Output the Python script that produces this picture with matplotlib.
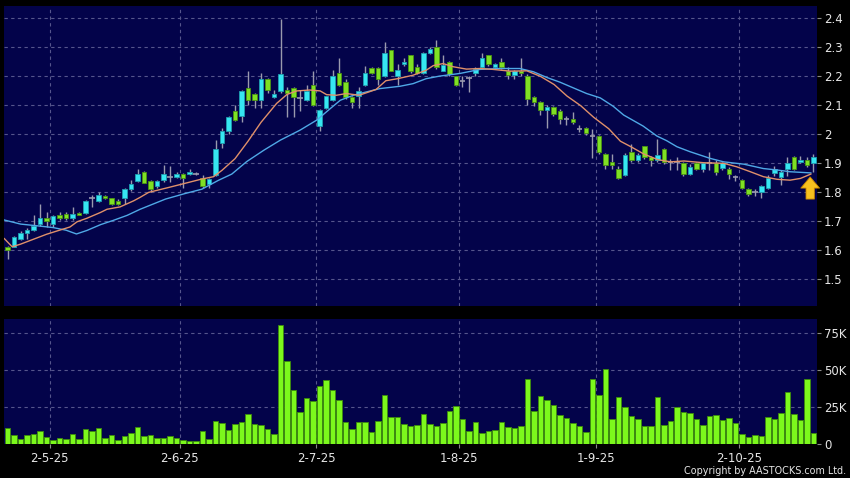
import matplotlib
matplotlib.use("Agg")
import matplotlib.pyplot as plt
import numpy as np

# ---- daily candles ----
opens = [
    1.611, 1.611, 1.638, 1.659, 1.670, 1.691, 1.710, 1.691, 1.720, 1.726,
    1.710, 1.729, 1.729, 1.779, 1.770, 1.788, 1.778, 1.770, 1.779, 1.809,
    1.839, 1.870, 1.838, 1.821, 1.840, 1.852, 1.852, 1.861, 1.862, 1.861,
    1.849, 1.828, 1.860, 1.969, 2.011, 2.078, 2.060, 2.159, 2.138, 2.117,
    2.190, 2.128, 2.148, 2.150, 2.159, 2.122, 2.118, 2.170, 2.027, 2.090,
    2.118, 2.208, 2.180, 2.127, 2.130, 2.169, 2.228, 2.228, 2.200, 2.289,
    2.200, 2.239, 2.270, 2.229, 2.210, 2.280, 2.300, 2.218, 2.248, 2.199,
    2.182, 2.191, 2.210, 2.231, 2.270, 2.229, 2.248, 2.217, 2.203, 2.217,
    2.200, 2.128, 2.110, 2.082, 2.091, 2.080, 2.050, 2.051, 2.018, 2.019,
    1.993, 1.993, 1.930, 1.902, 1.879, 1.859, 1.939, 1.910, 1.959, 1.920,
    1.910, 1.948, 1.905, 1.902, 1.900, 1.862, 1.900, 1.881, 1.900, 1.900,
    1.883, 1.881, 1.853, 1.840, 1.811, 1.800, 1.802, 1.813, 1.864, 1.853,
    1.881, 1.920, 1.903, 1.910, 1.900,
]
closes = [
    1.600, 1.647, 1.659, 1.671, 1.683, 1.710, 1.701, 1.719, 1.711, 1.710,
    1.726, 1.721, 1.769, 1.779, 1.791, 1.779, 1.760, 1.760, 1.810, 1.828,
    1.861, 1.832, 1.812, 1.838, 1.861, 1.852, 1.861, 1.850, 1.870, 1.861,
    1.821, 1.845, 1.949, 2.009, 2.057, 2.048, 2.149, 2.117, 2.117, 2.190,
    2.151, 2.139, 2.207, 2.140, 2.128, 2.122, 2.147, 2.100, 2.081, 2.129,
    2.200, 2.169, 2.128, 2.111, 2.148, 2.208, 2.209, 2.190, 2.280, 2.218,
    2.219, 2.248, 2.218, 2.210, 2.279, 2.291, 2.231, 2.237, 2.206, 2.170,
    2.182, 2.191, 2.225, 2.260, 2.240, 2.239, 2.231, 2.202, 2.215, 2.208,
    2.119, 2.110, 2.082, 2.091, 2.070, 2.050, 2.050, 2.040, 2.018, 2.002,
    1.993, 1.939, 1.893, 1.893, 1.850, 1.928, 1.910, 1.928, 1.920, 1.910,
    1.928, 1.902, 1.905, 1.902, 1.862, 1.887, 1.881, 1.900, 1.900, 1.869,
    1.900, 1.862, 1.853, 1.814, 1.794, 1.800, 1.822, 1.850, 1.880, 1.869,
    1.900, 1.881, 1.910, 1.892, 1.920,
]
highs = [
    1.615, 1.650, 1.665, 1.675, 1.720, 1.760, 1.733, 1.722, 1.730, 1.730,
    1.750, 1.730, 1.772, 1.790, 1.800, 1.790, 1.780, 1.775, 1.815, 1.840,
    1.880, 1.872, 1.840, 1.840, 1.893, 1.890, 1.870, 1.865, 1.880, 1.870,
    1.860, 1.850, 1.979, 2.020, 2.060, 2.100, 2.152, 2.218, 2.140, 2.210,
    2.192, 2.150, 2.397, 2.160, 2.160, 2.150, 2.170, 2.215, 2.085, 2.130,
    2.219, 2.260, 2.190, 2.130, 2.160, 2.235, 2.230, 2.230, 2.317, 2.290,
    2.240, 2.260, 2.272, 2.240, 2.283, 2.300, 2.322, 2.270, 2.250, 2.200,
    2.200, 2.200, 2.230, 2.280, 2.272, 2.245, 2.260, 2.230, 2.220, 2.260,
    2.205, 2.130, 2.115, 2.100, 2.095, 2.085, 2.060, 2.075, 2.030, 2.025,
    2.018, 1.995, 1.935, 1.930, 1.890, 1.935, 1.965, 1.935, 1.960, 1.925,
    1.983, 1.950, 1.915, 1.920, 1.905, 1.895, 1.905, 1.905, 1.938, 1.910,
    1.905, 1.885, 1.860, 1.845, 1.815, 1.810, 1.825, 1.860, 1.890, 1.875,
    1.920, 1.925, 1.925, 1.920, 1.930,
]
lows = [
    1.570, 1.610, 1.635, 1.640, 1.665, 1.685, 1.680, 1.680, 1.705, 1.705,
    1.705, 1.720, 1.725, 1.750, 1.765, 1.775, 1.755, 1.755, 1.760, 1.805,
    1.835, 1.830, 1.800, 1.815, 1.835, 1.835, 1.850, 1.815, 1.860, 1.860,
    1.815, 1.815, 1.855, 1.950, 2.000, 2.045, 2.040, 2.100, 2.090, 2.090,
    2.140, 2.125, 2.140, 2.058, 2.058, 2.080, 2.115, 2.095, 2.010, 2.085,
    2.115, 2.165, 2.120, 2.090, 2.090, 2.165, 2.205, 2.170, 2.195, 2.215,
    2.170, 2.235, 2.210, 2.205, 2.205, 2.275, 2.225, 2.215, 2.200, 2.165,
    2.160, 2.145, 2.200, 2.225, 2.235, 2.225, 2.225, 2.190, 2.190, 2.200,
    2.100, 2.095, 2.065, 2.020, 2.060, 2.035, 2.030, 2.035, 2.005, 1.995,
    1.918, 1.930, 1.880, 1.880, 1.845, 1.855, 1.905, 1.905, 1.915, 1.890,
    1.905, 1.895, 1.875, 1.875, 1.855, 1.860, 1.875, 1.870, 1.876, 1.860,
    1.875, 1.845, 1.838, 1.810, 1.785, 1.785, 1.780, 1.810, 1.855, 1.825,
    1.855, 1.875, 1.900, 1.885, 1.870,
]
# volume in thousands of shares
volumes_k = [
    11.0, 5.9, 3.4, 6.1, 6.5, 8.6, 4.5, 2.7, 3.8, 3.4,
    6.8, 3.2, 10.4, 8.8, 10.6, 4.3, 6.3, 2.9, 5.4, 7.7,
    11.5, 5.4, 6.1, 4.3, 4.1, 5.4, 4.1, 2.9, 2.3, 2.0,
    8.6, 3.6, 15.3, 14.4, 9.5, 13.7, 14.6, 20.0, 13.5, 13.1,
    9.9, 6.5, 80.2, 55.9, 36.7, 21.6, 30.9, 28.8, 39.2, 43.0,
    36.5, 29.7, 14.9, 10.4, 14.9, 15.1, 7.9, 15.5, 32.9, 18.2,
    18.2, 13.3, 12.2, 12.6, 20.4, 13.5, 12.2, 14.4, 22.5, 25.5,
    16.7, 8.8, 15.1, 7.7, 8.6, 9.2, 14.9, 11.3, 10.8, 11.9,
    43.5, 22.3, 32.4, 29.5, 26.1, 19.4, 17.6, 14.0, 12.2, 8.3,
    43.5, 32.9, 50.9, 16.7, 31.5, 25.2, 18.9, 17.1, 12.2, 12.2,
    32.0, 12.6, 15.3, 24.8, 21.6, 20.7, 16.7, 13.1, 18.9, 19.8,
    16.0, 17.6, 14.0, 6.5, 4.5, 6.1, 5.2, 18.5, 17.1, 21.2,
    34.9, 20.3, 16.2, 43.5, 7.4,
]

# moving averages at bar positions
ma10_x = [-0.5, 0.7, 2, 4, 6, 8, 9.6, 10.7, 12.2, 14.3, 15.3, 17.3, 19.4, 20.4,
          21.7, 24.8, 27.8, 29.9, 31.7, 33, 35, 37, 39, 41.4, 43, 44.5, 46.5,
          48.1, 49.1, 50.6, 52.1, 54.1, 56.7, 58.2, 60, 62.4, 64.4, 65.5, 67,
          68.6, 70.6, 72.7, 74.7, 77.3, 79.9, 82, 84.1, 86.1, 88.2, 90.2, 92.5,
          94.3, 96, 97.9, 100, 102, 104.1, 107.1, 110.2, 112.2, 114.3, 116.3,
          118.4, 120.4, 122, 123.6]
ma10_y = [1.640, 1.612, 1.621, 1.638, 1.655, 1.669, 1.680, 1.698, 1.710, 1.730,
          1.741, 1.749, 1.770, 1.782, 1.799, 1.816, 1.833, 1.845, 1.853, 1.875,
          1.915, 1.975, 2.040, 2.105, 2.136, 2.148, 2.151, 2.148, 2.135, 2.133,
          2.139, 2.133, 2.153, 2.183, 2.190, 2.202, 2.219, 2.235, 2.242, 2.231,
          2.223, 2.225, 2.222, 2.216, 2.217, 2.198, 2.170, 2.130, 2.097, 2.057,
          2.018, 1.975, 1.955, 1.931, 1.912, 1.904, 1.907, 1.901, 1.899, 1.887,
          1.870, 1.853, 1.844, 1.841, 1.847, 1.862]
ma20_x = [-0.5, 2, 5, 7, 9, 10.6, 12.2, 14.3, 16.3, 18.4, 20.4, 24.3, 27.3, 29.9,
          32.4, 34.5, 36.8, 39.5, 42, 45, 47.6, 49.7, 51.2, 53.2, 55.3, 57.3,
          60.4, 62.4, 64.4, 66.5, 69.6, 72.7, 75.8, 78.8, 80.9, 83, 85, 87.1,
          89.1, 91.2, 93.2, 94.8, 97.8, 99.9, 101.4, 103, 105, 108.1, 110.2,
          113.3, 116.3, 118.4, 120.4, 123.6]
ma20_y = [1.704, 1.690, 1.683, 1.678, 1.669, 1.656, 1.668, 1.688, 1.703, 1.720,
          1.741, 1.776, 1.795, 1.810, 1.840, 1.862, 1.905, 1.945, 1.979, 2.013,
          2.048, 2.088, 2.116, 2.133, 2.145, 2.156, 2.164, 2.173, 2.190, 2.199,
          2.208, 2.222, 2.225, 2.225, 2.214, 2.194, 2.178, 2.158, 2.139, 2.124,
          2.095, 2.065, 2.027, 1.993, 1.977, 1.956, 1.939, 1.916, 1.904, 1.896,
          1.881, 1.876, 1.870, 1.866]

date_idx = [7, 27, 48, 70, 91, 113]
date_labels = ["2-5-25", "2-6-25", "2-7-25", "1-8-25", "1-9-25", "2-10-25"]
price_ticks = [1.5, 1.6, 1.7, 1.8, 1.9, 2.0, 2.1, 2.2, 2.3, 2.4]
price_tick_labels = ["1.5", "1.6", "1.7", "1.8", "1.9", "2", "2.1", "2.2", "2.3", "2.4"]
vol_ticks = [0, 25, 50, 75]
vol_tick_labels = ["0", "25K", "50K", "75K"]

NAVY = "#03034a"
GRID = "#55558c"
TXT = "#e6e6e6"
UP, UP_EDGE = "#36e6f2", "#1f9fb0"
DN, DN_EDGE = "#7fe024", "#4a9412"
WICK = "#9a9aae"

W, H = 850, 478
fig = plt.figure(figsize=(W / 100, H / 100), dpi=100, facecolor="black")
ax = fig.add_axes([4 / W, (H - 305.5) / H, 813 / W, 299.5 / H], facecolor=NAVY)
axv = fig.add_axes([4 / W, (H - 444) / H, 813 / W, 125 / H], facecolor=NAVY)

o = np.array(opens); c = np.array(closes)
hi = np.array(highs); lo = np.array(lows)
x = np.arange(len(o))

for a in (ax, axv):
    a.set_xlim(-0.55, 124.55)
    for s in a.spines.values():
        s.set_visible(False)
    for d in date_idx:
        a.axvline(d - 0.5, color=GRID, lw=0.8, ls=(0, (3, 3)), zorder=0)
    a.yaxis.tick_right()
    a.tick_params(axis="y", colors=TXT, labelsize=8.5, length=3, width=0.8,
                  pad=2)
    a.tick_params(axis="y", color="#8a8a8a")

# ---- price panel ----
ax.set_ylim(1.41, 2.44)
for p in price_ticks:
    ax.axhline(p, color=GRID, lw=0.8, ls=(0, (3, 3)), zorder=0)
ax.set_yticks(price_ticks)
ax.set_yticklabels(price_tick_labels)
ax.set_xticks([])

ax.vlines(x, lo, hi, color=WICK, lw=1, zorder=2)
up = c > o
dn = c < o
flat = c == o
ax.bar(x[up], (c - o)[up], bottom=o[up], width=0.74, color=UP,
       edgecolor=UP_EDGE, lw=0.6, zorder=3)
ax.bar(x[dn], (o - c)[dn], bottom=c[dn], width=0.74, color=DN,
       edgecolor=DN_EDGE, lw=0.6, zorder=3)
ax.hlines(c[flat], x[flat] - 0.4, x[flat] + 0.4, color=WICK, lw=1.2, zorder=3)

ax.plot(ma20_x, ma20_y, color="#4fa8e6", lw=1.0, zorder=4)
ax.plot(ma10_x, ma10_y, color="#e0906a", lw=1.0, zorder=4)

# up arrow marking the latest bar
ax.annotate("", xy=(x[-1] - 0.5, ma10_y[-1] - 0.01),
            xytext=(x[-1] - 0.5, ma10_y[-1] - 0.086),
            arrowprops=dict(arrowstyle="simple,head_length=0.8,head_width=1.35,tail_width=0.6",
                            fc="#f7c01e", ec="#c98400", lw=0.6,
                            shrinkA=0, shrinkB=0),
            zorder=6)

# ---- volume panel ----
axv.set_ylim(0, 84.3)
for v in vol_ticks[1:]:
    axv.axhline(v, color=GRID, lw=0.8, ls=(0, (3, 3)), zorder=0)
axv.bar(x, volumes_k, width=0.87, color="#7cf81c", edgecolor="#3d8c0c",
        lw=0.6, zorder=3)
axv.set_yticks(vol_ticks)
axv.set_yticklabels(vol_tick_labels)
axv.set_xticks([d - 0.5 for d in date_idx])
axv.set_xticklabels(date_labels)
axv.tick_params(axis="x", colors=TXT, labelsize=8.5, length=3, width=0.8,
                pad=3)
axv.tick_params(axis="x", color="#8a8a8a")

fig.text(846 / W, 1 - 471 / H, "Copyright by AASTOCKS.com Ltd.", color=TXT,
         fontsize=6.9, ha="right", va="center")

fig.savefig("out.png", dpi=100, facecolor="black")
